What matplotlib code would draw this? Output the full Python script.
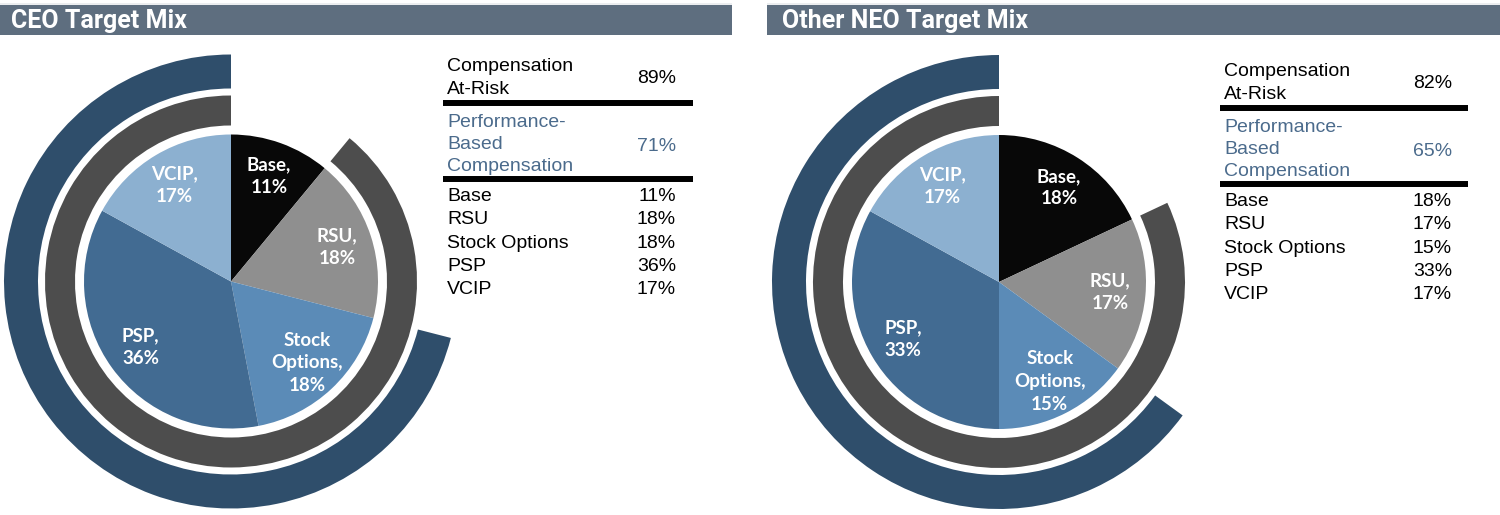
import matplotlib
matplotlib.use("Agg")
import matplotlib.pyplot as plt
from matplotlib.patches import Rectangle

# ---------------- data ----------------
categories = ["Base", "RSU", "Stock Options", "PSP", "VCIP"]
pie_names = ["Base", "RSU", "Stock\nOptions", "PSP", "VCIP"]
ceo_values = [11, 18, 18, 36, 17]
neo_values = [18, 17, 15, 33, 17]
ceo_at_risk = 89
ceo_perf = 71
neo_at_risk = 82
neo_perf = 65
titles = ["CEO Target Mix", "Other NEO Target Mix"]
summary_labels = [["Compensation", "At-Risk"], ["Performance-", "Based", "Compensation"]]

# ---------------- style ----------------
W, H = 1500, 515
slice_colors = ["#080808", "#8f8f8f", "#5b8bb7", "#426b92", "#8cb0d0"]
gray_ring = "#4d4d4d"
blue_ring = "#2f4e6b"
header_color = "#5e6e7f"
perf_color = "#4b6b8c"

fig = plt.figure(figsize=(W / 100, H / 100), dpi=100)
ax = fig.add_axes([0, 0, 1, 1])


def Y(y):
    return H - y


panels = [
    dict(values=ceo_values, at_risk=ceo_at_risk, perf=ceo_perf, title=titles[0],
         hx0=0, hx1=732, tx=11, cx=231, cy=281.5, tl=447, tr=676, rl=443, rr=693, dy=0),
    dict(values=neo_values, at_risk=neo_at_risk, perf=neo_perf, title=titles[1],
         hx0=767, hx1=1500, tx=782, cx=999, cy=282, tl=1224, tr=1452, rl=1220, rr=1468, dy=5),
]

for p in panels:
    # header bar
    ax.add_patch(Rectangle((p["hx0"], Y(35)), p["hx1"] - p["hx0"], 30,
                           facecolor=header_color, edgecolor="none"))
    ax.add_patch(Rectangle((p["hx0"], Y(5)), p["hx1"] - p["hx0"], 2,
                           facecolor="#eceef0", edgecolor="none"))
    ax.text(p["tx"], Y(28), p["title"],
            color="white", fontsize=18, fontweight="bold",
            family=["Roboto", "DejaVu Sans"], va="baseline", ha="left")

    center = (p["cx"], Y(p["cy"]))
    vals = p["values"]

    # outer rings
    ax.pie([100 - p["perf"], p["perf"]], colors=["none", blue_ring], radius=227,
           startangle=90, counterclock=False, center=center,
           wedgeprops=dict(width=34, linewidth=0))
    ax.pie([100 - p["at_risk"], p["at_risk"]], colors=["none", gray_ring], radius=186,
           startangle=90, counterclock=False, center=center,
           wedgeprops=dict(width=30, linewidth=0))

    # main pie
    labels = [f"{n},\n{v}%" for n, v in zip(pie_names, vals)]
    wedges, texts = ax.pie(vals, colors=slice_colors, radius=147, startangle=90,
                           counterclock=False, center=center, labels=labels,
                           labeldistance=0.76, wedgeprops=dict(linewidth=0))
    for t in texts:
        t.set_ha("center")
        t.set_va("center")
        t.set_color("white")
        t.set_fontsize(13.5)
        t.set_fontweight("bold")
        t.set_family(["Lato", "DejaVu Sans"])
        t.set_linespacing(1.4)

    # table
    dy = p["dy"]
    tfont = dict(family=["Liberation Sans", "DejaVu Sans"], fontsize=14, va="baseline")
    for i, s in enumerate(summary_labels[0]):
        ax.text(p["tl"], Y(71 + dy + 23 * i), s, ha="left", color="black", **tfont)
    ax.text(p["tr"], Y(83 + dy), f"{p['at_risk']}%", ha="right", color="black", **tfont)
    ax.plot([p["rl"], p["rr"]], [Y(102.5 + dy)] * 2, color="black", lw=4.3,
            solid_capstyle="butt")
    for i, s in enumerate(summary_labels[1]):
        ax.text(p["tl"], Y(127 + dy + 22 * i), s, ha="left", color=perf_color, **tfont)
    ax.text(p["tr"], Y(151 + dy), f"{p['perf']}%", ha="right", color=perf_color, **tfont)
    ax.plot([p["rl"], p["rr"]], [Y(179 + dy)] * 2, color="black", lw=4.3,
            solid_capstyle="butt")
    for i, (c, v) in enumerate(zip(categories, vals)):
        yy = Y(201 + dy + 23.3 * i)
        ax.text(p["tl"], yy, c, ha="left", color="black", **tfont)
        ax.text(p["tr"], yy, f"{v}%", ha="right", color="black", **tfont)

ax.set_xlim(0, W)
ax.set_ylim(0, H)
ax.set_aspect("equal")
ax.axis("off")

fig.savefig("out.png", dpi=100, facecolor="white")
